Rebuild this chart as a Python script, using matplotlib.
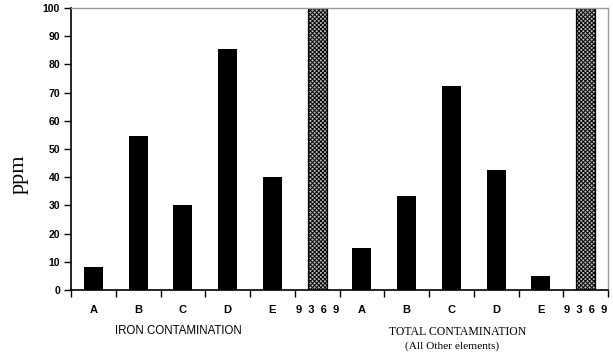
import matplotlib
matplotlib.use("Agg")
import matplotlib.pyplot as plt
import numpy as np

plt.rcParams["hatch.linewidth"] = 0.7

categories = ["A", "B", "C", "D", "E", "9369", "A", "B", "C", "D", "E", "9369"]
values = [8, 54.5, 30, 85.5, 40, 100, 15, 33.5, 72.5, 42.5, 5, 100]
reference = [False, False, False, False, False, True, False, False, False, False, False, True]
yticks = [0, 10, 20, 30, 40, 50, 60, 70, 80, 90, 100]

fig = plt.figure(figsize=(6.13, 3.58), dpi=100)
ax = fig.add_axes([71/613, 1-290/358, (608-71)/613, (290-8)/358])

x = np.arange(len(categories))
for xi, v, ref in zip(x, values, reference):
    if ref:
        ax.bar(xi, v, width=0.43, facecolor="#bbbbbb", edgecolor="black",
               hatch="xxxxxxxx", linewidth=0.9, zorder=2)
    else:
        ax.bar(xi, v, width=0.43, color="black", zorder=2)

ax.set_xlim(-0.5, len(categories) - 0.5)
ax.set_ylim(0, 100)
ax.set_yticks(yticks)
ax.set_yticklabels([str(t) for t in yticks], fontsize=7.5, fontweight="bold",
                   family="Liberation Sans")
ax.set_xticks(x)
ax.set_xticklabels(["  ".join(c) if len(c) > 1 else c for c in categories],
                   fontsize=8, fontweight="bold", family="Liberation Sans")
ax.set_xticks(np.arange(-0.5, len(categories)), minor=True)
ax.tick_params(axis="x", which="major", length=0, pad=11)
ax.tick_params(axis="x", which="minor", length=5, width=1, direction="out")
ax.tick_params(axis="y", length=5, width=1, direction="out", pad=3)

for s in ["left", "bottom"]:
    ax.spines[s].set_color("black")
    ax.spines[s].set_linewidth(1.2)
for s in ["top", "right"]:
    ax.spines[s].set_color("#999999")
    ax.spines[s].set_linewidth(1)

fig.text(19/613, 1-174/358, "ppm", rotation=90, ha="center", va="center",
         fontsize=16, family="Liberation Serif")
fig.text(178/613, 1-331/358, "IRON CONTAMINATION", ha="center", va="center",
         fontsize=8.3, family="Liberation Sans")
fig.text(458/613, 1-332/358, "TOTAL CONTAMINATION", ha="center", va="center",
         fontsize=8.5, family="Liberation Serif")
fig.text(452/613, 1-346.5/358, "(All Other elements)", ha="center", va="center",
         fontsize=8.2, family="Liberation Serif")

fig.savefig("out.png", dpi=100)
